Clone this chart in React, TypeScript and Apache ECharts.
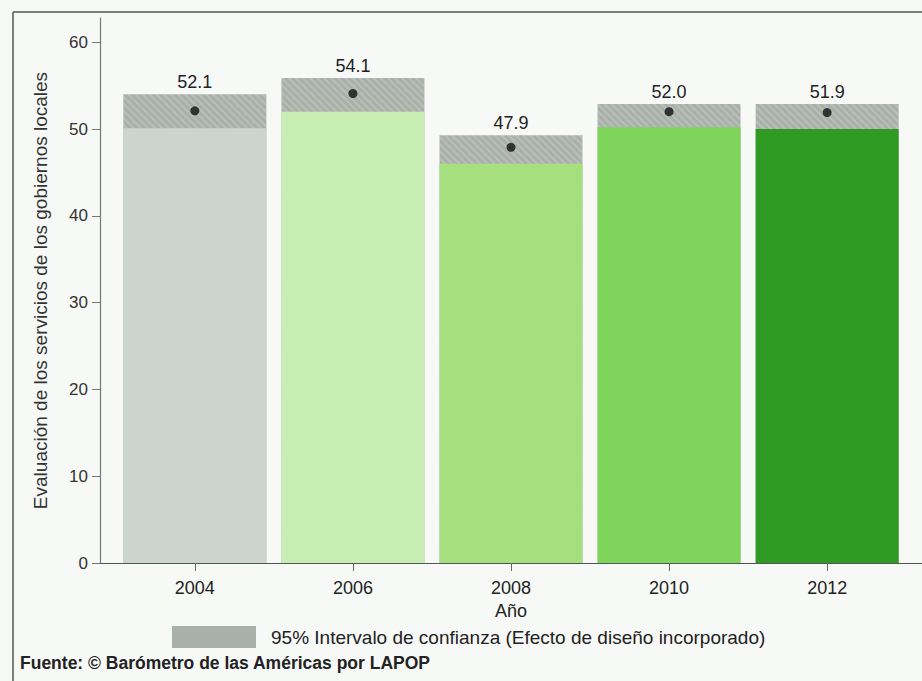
import React, { useEffect, useRef } from "react";
import * as echarts from "echarts";

const years = [2004, 2006, 2008, 2010, 2012];
const means = [52.1, 54.1, 47.9, 52.0, 51.9];
const ciLower = [50.1, 52.0, 46.0, 50.2, 50.0];
const ciUpper = [54.0, 55.9, 49.3, 52.9, 52.9];
const barColors = ["#ccd4ce", "#c8eeb4", "#a6e07e", "#7fd55c", "#2f9b22"];
const yTicks = [0, 10, 20, 30, 40, 50, 60];

const FONT = "'Liberation Sans', Arial, sans-serif";

export default function App() {
  const ref = useRef<HTMLDivElement>(null);
  useEffect(() => {
    document.body.style.margin = "0";
    if (!ref.current) return;
    const chart = echarts.init(ref.current, undefined, { renderer: "svg" });
    const ciDecal = {
      symbol: "rect",
      symbolSize: 1,
      dashArrayX: [1, 0],
      dashArrayY: [2, 3],
      rotation: Math.PI / 4,
      color: "rgba(255,255,255,0.18)",
    };
    chart.setOption({
      animation: false,
      backgroundColor: "#f7f9f7",
      textStyle: { fontFamily: FONT },
      grid: { left: 100, right: 0, top: 18, bottom: 118, containLabel: false },
      xAxis: {
        type: "value",
        min: 2002.8,
        max: 2013.2,
        splitLine: { show: false },
        axisLine: { show: true, lineStyle: { color: "#555", width: 1.2 } },
        axisTick: {
          show: true,
          length: 8,
          customValues: years,
          lineStyle: { color: "#666" },
        },
        axisLabel: {
          customValues: years,
          formatter: (v: number) => String(v),
          fontSize: 18,
          color: "#222",
          margin: 16,
          fontFamily: FONT,
        },
        name: "Año",
        nameLocation: "middle",
        nameGap: 39,
        nameTextStyle: { fontSize: 18, color: "#222", fontFamily: FONT },
      },
      yAxis: {
        type: "value",
        min: 0,
        max: 62.8,
        interval: 10,
        splitLine: { show: false },
        axisLine: { show: true, lineStyle: { color: "#777", width: 1.2 } },
        axisTick: {
          show: true,
          length: 8,
          customValues: yTicks,
          lineStyle: { color: "#777" },
        },
        axisLabel: {
          customValues: yTicks,
          fontSize: 17,
          color: "#333",
          margin: 12,
          fontFamily: FONT,
        },
        name: "Evaluación de los servicios de los gobiernos locales",
        nameLocation: "middle",
        nameGap: 50,
        nameTextStyle: { fontSize: 19, color: "#333", fontFamily: FONT },
      },
      series: [
        {
          type: "bar",
          name: "ci",
          barWidth: 143,
          barGap: "-100%",
          data: years.map((y, i) => [y, ciUpper[i]]),
          itemStyle: { color: "#a9b0a9", decal: ciDecal },
          label: {
            show: true,
            position: "top",
            distance: 3,
            fontSize: 18,
            color: "#222",
            fontFamily: FONT,
            formatter: (p: any) => means[p.dataIndex].toFixed(1),
          },
          z: 2,
        },
        {
          type: "bar",
          name: "base",
          barWidth: 143,
          barGap: "-100%",
          data: years.map((y, i) => ({
            value: [y, ciLower[i]],
            itemStyle: { color: barColors[i] },
          })),
          z: 3,
        },
        {
          type: "scatter",
          name: "mean",
          symbol: "circle",
          symbolSize: 9,
          data: years.map((y, i) => [y, means[i]]),
          itemStyle: { color: "#111" },
          z: 5,
        },
      ],
      graphic: [
        {
          type: "line",
          shape: { x1: 13, y1: 12, x2: 922, y2: 12 },
          style: { stroke: "#555", lineWidth: 1.5 },
        },
        {
          type: "line",
          shape: { x1: 13, y1: 12, x2: 13, y2: 681 },
          style: { stroke: "#555", lineWidth: 1.5 },
        },
        {
          type: "rect",
          shape: { x: 172, y: 626, width: 84, height: 22 },
          style: { fill: "#a9b0a9" },
        },
        {
          type: "text",
          x: 271,
          y: 637,
          style: {
            text: "95% Intervalo de confianza (Efecto de diseño incorporado)",
            fontSize: 19,
            fill: "#222",
            fontFamily: FONT,
            verticalAlign: "middle",
            align: "left",
          },
        },
        {
          type: "text",
          x: 20,
          y: 663,
          style: {
            text: "Fuente: © Barómetro de las Américas por LAPOP",
            fontSize: 17.5,
            fontWeight: "bold",
            fill: "#222",
            fontFamily: FONT,
            verticalAlign: "middle",
            align: "left",
          },
        },
      ],
    });
    return () => chart.dispose();
  }, []);
  return (
    <div
      ref={ref}
      style={{ width: 922, height: 681, position: "absolute", left: 0, top: 0 }}
    />
  );
}
